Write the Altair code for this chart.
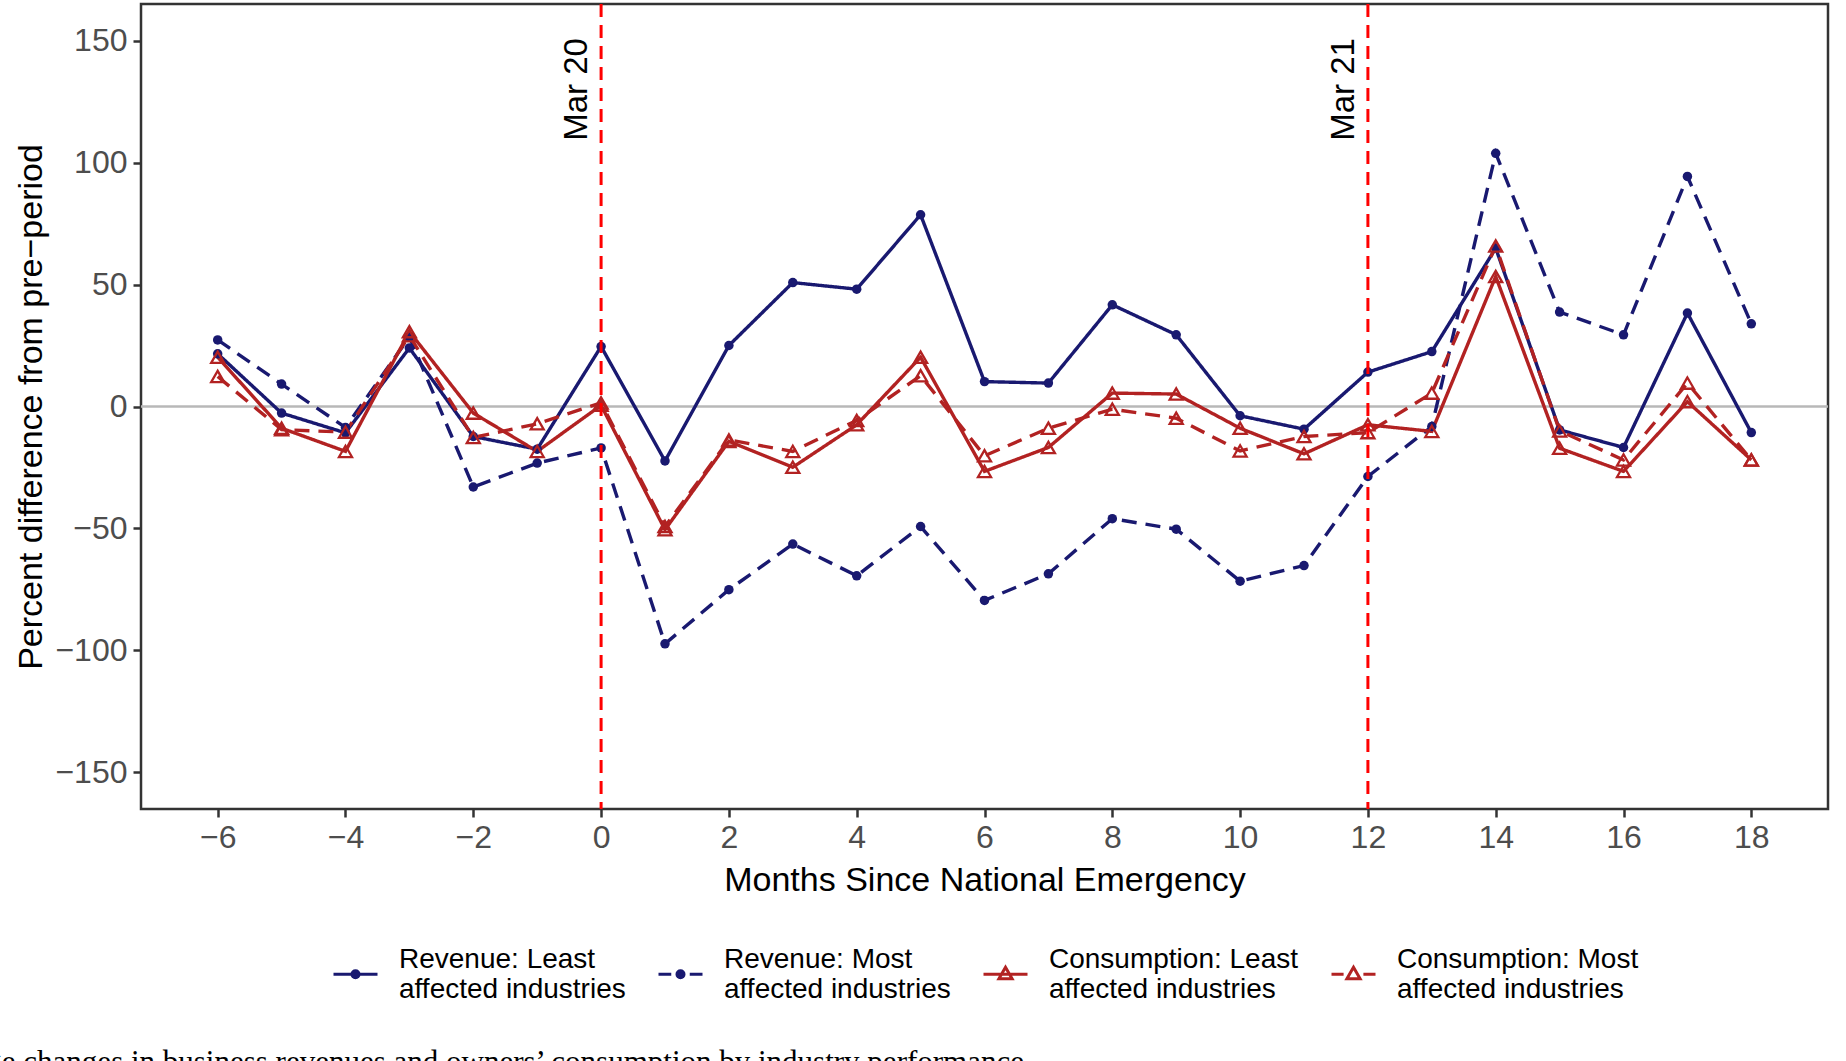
import altair as alt
import pandas as pd

# Months relative to the national emergency declaration
months = list(range(-6, 19))

# Percent difference from the pre-period, one list per series
revenue_least = [21.6, -2.7, -10.8, 24.0, -12.3, -17.5, 24.6, -22.3, 25.0, 50.8, 48.1, 78.6, 10.2,
                 9.6, 41.7, 29.4, -3.8, -9.3, 14.1, 22.5, 64.9, -9.6, -16.8, 38.3, -10.7]
revenue_most = [27.3, 9.2, -8.6, 28.5, -33.0, -23.2, -17.0, -97.3, -75.1, -56.4, -69.4, -49.2, -79.5,
                -68.6, -46.0, -50.3, -71.6, -65.2, -28.7, -8.2, 103.8, 38.7, 29.4, 94.3, 33.9]
consumption_least = [20.2, -8.9, -18.4, 30.7, -2.7, -18.4, 0.5, -50.5, -14.3, -24.9, -7.5, 20.2, -26.6,
                     -16.8, 5.5, 5.1, -8.9, -19.4, -7.5, -10.2, 53.3, -17.1, -26.6, 2.0, -21.9]
consumption_most = [12.3, -9.5, -10.5, 29.0, -12.7, -7.1, 1.5, -49.2, -13.7, -18.4, -5.7, 12.6, -20.2,
                    -8.9, -1.1, -4.8, -18.2, -12.3, -10.7, 5.5, 65.8, -10.0, -21.9, 9.6, -21.9]

series_names = [
    "Revenue: Least affected industries",
    "Revenue: Most affected industries",
    "Consumption: Least affected industries",
    "Consumption: Most affected industries",
]
# Legend entries, broken over two lines at "|"
legend_labels = [
    "Revenue: Least|affected industries",
    "Revenue: Most|affected industries",
    "Consumption: Least|affected industries",
    "Consumption: Most|affected industries",
]

# Reference events drawn as vertical lines
event_months = [0, 12]
event_labels = ["Mar 20", "Mar 21"]

caption_text = ["Percentage changes in business revenues and owners\u2019 consumption by industry performance"]

# Styling
NAVY = "#191970"
RED = "#B22222"
FONT = "Liberation Sans"
series_colors = [NAVY, NAVY, RED, RED]
DASH = [15, 9]
series_dashes = [[1, 0], DASH, [1, 0], DASH]

# Legend keys: a short line (solid or broken) with the series marker in the middle.
# Keys are drawn half a text line lower so they sit between the two label lines.
k = 0.66


def dot_path(r=0.16):
    return (f"M{-r},{k}A{r},{r} 0 1,0 {r},{k}A{r},{r} 0 1,0 {-r},{k}Z")


def tri_path():
    return f"M0,{k - 0.32:.2f}L0.3,{k + 0.2:.2f}L-0.3,{k + 0.2:.2f}Z"


solid_seg = f"M-1,{k}H1"


def broken_seg(gap):
    return f"M-1,{k}H{-gap}M{gap},{k}H1"


key_paths = [
    solid_seg + dot_path(),
    broken_seg(0.42) + dot_path(),
    solid_seg + tri_path(),
    broken_seg(0.45) + tri_path(),
]
key_fills = [NAVY, NAVY, "transparent", "transparent"]

rows = []
for name, vals in zip(series_names, [revenue_least, revenue_most, consumption_least, consumption_most]):
    for m, v in zip(months, vals):
        rows.append({"month": m, "value": v, "series": name, "kind": name.split(":")[0]})
df = pd.DataFrame(rows)
events = pd.DataFrame({"month": event_months, "label": event_labels})
keys = pd.DataFrame({"key": legend_labels})

x_enc = alt.X(
    "month:Q",
    scale=alt.Scale(domain=[-7.2, 19.2], nice=False, zero=False),
    axis=alt.Axis(values=list(range(-6, 19, 2)), title="Months Since National Emergency",
                  labelPadding=5, titlePadding=10),
)
y_enc = alt.Y(
    "value:Q",
    scale=alt.Scale(domain=[-165, 165], nice=False, zero=False),
    axis=alt.Axis(values=list(range(-150, 151, 50)), title="Percent difference from pre\u2212period",
                  labelPadding=6, titlePadding=6),
)

zero_line = alt.Chart(pd.DataFrame({"value": [0]})).mark_rule(
    color="#B8B8B8", strokeWidth=2.5
).encode(y=y_enc)

lines = alt.Chart(df).mark_line(strokeWidth=3.4).encode(
    x=x_enc,
    y=y_enc,
    color=alt.Color("series:N", scale=alt.Scale(domain=series_names, range=series_colors), legend=None),
    strokeDash=alt.StrokeDash("series:N", scale=alt.Scale(domain=series_names, range=series_dashes),
                              legend=None),
    order="month:Q",
)

circles = alt.Chart(df).transform_filter(alt.datum.kind == "Revenue").mark_circle(
    size=90, color=NAVY, opacity=1
).encode(x=x_enc, y=y_enc)

triangles = alt.Chart(df).transform_filter(alt.datum.kind == "Consumption").mark_point(
    shape="triangle-up", size=170, filled=False, color=RED, strokeWidth=2.3, opacity=1
).encode(x=x_enc, y=y_enc)

event_lines = alt.Chart(events).mark_rule(
    color="#FF0000", strokeWidth=3, strokeDash=[13, 8]
).encode(x=x_enc)

event_text = alt.Chart(events).mark_text(
    angle=270, align="center", baseline="alphabetic", dy=-14, font=FONT, fontSize=33, color="black"
).encode(x=x_enc, y=alt.datum(130), text="label:N")

# Legend only: no marks are drawn, the scales carry the keys
legend_layer = alt.Chart(keys).transform_filter("false").mark_point(
    opacity=1, strokeWidth=3, filled=True
).encode(
    shape=alt.Shape(
        "key:N",
        scale=alt.Scale(domain=legend_labels, range=key_paths),
        legend=alt.Legend(
            orient="none", legendX=191, legendY=932, direction="horizontal", columns=4,
            title=None, labelFont=FONT, labelFontSize=28, labelColor="black", labelLimit=400,
            symbolSize=1936, symbolStrokeWidth=3, labelOffset=20, columnPadding=26,
            labelExpr="split(datum.label, '|')",
        ),
    ),
    stroke=alt.Stroke("key:N", scale=alt.Scale(domain=legend_labels, range=series_colors)),
    fill=alt.Fill("key:N", scale=alt.Scale(domain=legend_labels, range=key_fills)),
)

caption = alt.Chart(pd.DataFrame({"text": caption_text})).mark_text(
    align="right", baseline="alphabetic", font="Liberation Serif", fontSize=31, color="black"
).encode(x=alt.value(883), y=alt.value(1068), text="text:N")

chart = alt.layer(
    zero_line, lines, circles, triangles, event_lines, event_text, legend_layer, caption
).properties(
    width=1687,
    height=805,
    autosize=alt.AutoSizeParams(type="none"),
    padding={"left": 141, "top": 4, "right": 18, "bottom": 252},
).configure_view(
    stroke="#333333", strokeWidth=2.5
).configure_axis(
    grid=False, domain=False, tickColor="#333333", tickWidth=2.5, tickSize=8,
    labelFont=FONT, labelFontSize=32, labelColor="#4D4D4D",
    titleFont=FONT, titleFontSize=34, titleFontWeight="normal", titleColor="black",
)

chart.save("out.html", embed_options={"renderer": "svg", "actions": False})
